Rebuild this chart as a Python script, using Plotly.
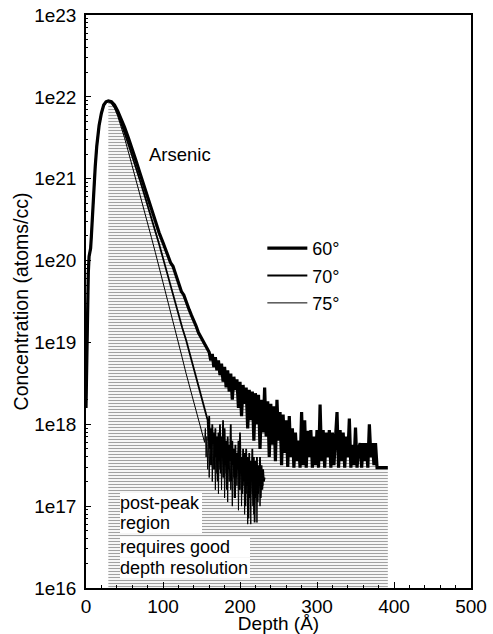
import numpy as np
import plotly.graph_objects as go

# ---------------- data (depth in Å, concentration as log10 atoms/cc) ----------------
# common rising edge (all three angles overlap)
rise_x = [0, 1, 2, 3, 4, 5, 6, 7, 8, 10, 12, 14, 17, 20, 23, 26]
rise_log = [18.2, 18.9, 19.5, 19.85, 20.05, 20.1, 20.15, 20.3, 20.5, 20.85, 21.15, 21.4, 21.65, 21.8, 21.9, 21.94]

# 60 degrees: decay part
dec60_x = [29, 33, 37, 41, 45, 50, 55, 60, 65, 70, 75, 80, 85, 90, 95, 100, 105, 110, 113, 116, 120,
           124, 127, 130, 134, 137, 140, 143, 146, 150, 153, 156, 158]
dec60_log = [21.95, 21.94, 21.9, 21.83, 21.75, 21.63, 21.5, 21.37, 21.22, 21.07, 20.92, 20.77, 20.62,
             20.48, 20.34, 20.22, 20.1, 19.97, 19.93, 19.84, 19.72, 19.62, 19.58, 19.49, 19.4, 19.33,
             19.27, 19.2, 19.12, 19.05, 19.0, 18.93, 18.9]
# 60 degrees: noisy tail, 2 Å steps from 160 to 378, then floor
tail60_x = list(range(160, 380, 2)) + [380, 392]
tail60_log = [
    18.88, 18.78, 18.86, 18.70, 18.82, 18.66, 18.78, 18.60, 18.74, 18.52,
    18.70, 18.45, 18.66, 18.40, 18.62, 18.30, 18.58, 18.42, 18.55, 18.20,
    18.52, 18.10, 18.48, 18.25, 18.45, 17.95, 18.42, 18.05, 18.40, 17.80,
    18.38, 18.00, 18.36, 17.70, 18.30, 17.90, 18.45, 17.85, 18.28, 17.60,
    18.25, 17.75, 18.22, 17.55, 18.30, 17.80, 18.15, 17.50, 18.12, 17.65,
    18.05, 17.48, 18.10, 17.60, 17.95, 17.47, 17.90, 17.55, 17.80, 17.47,
    18.15, 17.50, 18.05, 17.47, 17.92, 17.60, 17.93, 17.47, 17.85, 17.50,
    17.93, 17.47, 18.24, 17.55, 17.93, 17.47, 17.90, 17.60, 17.93, 17.47,
    17.90, 17.50, 17.93, 18.15, 17.47, 17.93, 17.55, 17.90, 17.47, 17.85,
    17.60, 18.07, 17.47, 17.75, 17.50, 17.96, 17.47, 17.70, 17.77, 17.47,
    17.77, 17.55, 17.77, 17.47, 18.00, 17.60, 17.77, 17.50, 17.77, 17.47,
    17.47, 17.47]

# 70 degrees
dec70_x = [29, 33, 37, 41, 45, 50, 55, 60, 65, 70, 75, 80, 85, 90, 95, 100, 105, 110, 115, 120,
           125, 130, 135, 140, 145, 150, 154]
dec70_log = [21.95, 21.93, 21.88, 21.8, 21.7, 21.56, 21.42, 21.28, 21.13, 20.98, 20.83, 20.68, 20.52,
             20.36, 20.2, 20.03, 19.86, 19.68, 19.5, 19.33, 19.18, 19.03, 18.86, 18.68, 18.5, 18.32,
             18.18]
tail70_x = list(range(158, 233))
tail70_log = [18.05, 17.8, 18.1, 17.7, 17.95, 17.5, 18.0, 17.75, 17.9, 17.45,
              17.95, 17.6, 17.85, 17.3, 17.9, 17.55, 18.0, 17.4, 17.85, 17.6,
              18.05, 17.35, 17.95, 17.5, 17.8, 17.2, 17.85, 17.45, 17.75, 17.55,
              18.0, 17.3, 17.8, 17.5, 17.7, 17.1, 17.75, 17.35, 17.65, 17.45,
              17.8, 17.2, 17.9, 17.4, 17.6, 17.15, 17.7, 17.3, 17.65, 17.0,
              17.7, 17.25, 17.6, 16.85, 17.65, 17.1, 17.55, 17.3, 17.7, 17.0,
              17.6, 16.8, 17.55, 17.2, 17.6, 17.05, 17.5, 17.25, 17.6, 17.1,
              17.5, 17.2, 17.45, 17.3, 17.35]

# 75 degrees
dec75_x = [29, 33, 37, 41, 45, 50, 55, 60, 65, 70, 75, 80, 85, 90, 95, 100, 105, 110, 115, 120,
           125, 130, 135, 140, 145, 150]
dec75_log = [21.95, 21.92, 21.86, 21.77, 21.66, 21.5, 21.33, 21.16, 20.99, 20.82, 20.64, 20.46, 20.28,
             20.1, 19.92, 19.74, 19.56, 19.38, 19.19, 19.0, 18.81, 18.62, 18.44, 18.26, 18.08, 17.9]
tail75_x = list(range(154, 231))
tail75_log = [17.78, 17.95, 17.6, 17.85, 17.45, 17.9, 17.35, 17.8, 17.5, 17.9,
              17.3, 17.75, 17.45, 17.8, 17.2, 17.7, 17.4, 17.75, 17.15, 17.7,
              17.45, 17.8, 17.2, 17.7, 17.35, 17.75, 17.1, 17.6, 17.4, 17.7,
              17.05, 17.6, 17.3, 17.7, 17.2, 17.55, 17.0, 17.6, 17.35, 17.5,
              17.1, 17.55, 17.25, 17.6, 16.95, 17.5, 17.2, 17.55, 17.0, 17.45,
              17.25, 17.55, 16.9, 17.45, 17.15, 17.5, 16.78, 17.4, 17.1, 17.45,
              16.78, 17.4, 17.15, 17.5, 16.9, 17.35, 17.1, 17.45, 16.8, 17.4,
              17.15, 17.4, 17.0, 17.35, 17.2, 17.4, 17.25]

series_names = ["60°", "70°", "75°"]
y_tick_vals = [1e16, 1e17, 1e18, 1e19, 1e20, 1e21, 1e22, 1e23]
y_tick_text = ["1e16", "1e17", "1e18", "1e19", "1e20", "1e21", "1e22", "1e23"]
x_tick_vals = [0, 100, 200, 300, 400, 500]

# ---------------- build series ----------------
x60 = rise_x + dec60_x + tail60_x
y60 = list(10 ** np.array(rise_log + dec60_log + tail60_log))
x70 = rise_x + dec70_x + tail70_x
y70 = list(10 ** np.array(rise_log + dec70_log + tail70_log))
x75 = rise_x + dec75_x + tail75_x
y75 = list(10 ** np.array(rise_log + dec75_log + tail75_log))

Y_LOW = y_tick_vals[0]
FONT = "Liberation Sans, Arial, Helvetica, sans-serif"

fig = go.Figure()

# hatched post-peak region (under the 60° envelope, from the peak onward)
peak_x = dec60_x[0] - 1
hx = [x for x in x60 if x >= peak_x]
hy = [y for x, y in zip(x60, y60) if x >= peak_x]
fig.add_trace(go.Scatter(
    x=hx + [hx[-1], hx[0]], y=hy + [Y_LOW, Y_LOW],
    mode="lines", fill="toself", fillcolor="rgba(0,0,0,0)",
    fillpattern=dict(shape="-", fgcolor="#444444", bgcolor="white", size=3, solidity=0.4),
    line=dict(width=0), showlegend=False, hoverinfo="skip"))

widths = [3.2, 1.8, 1.0]
for name, xs, ys, w in zip(series_names, [x60, x70, x75], [y60, y70, y75], widths):
    fig.add_trace(go.Scatter(
        x=xs, y=ys, mode="lines", name=name, legendgroup=name,
        line=dict(color="black", width=w)))

fig.update_layout(
    width=493, height=634,
    margin=dict(l=86, r=22, t=15, b=46),
    paper_bgcolor="white", plot_bgcolor="white",
    font=dict(family=FONT, size=18, color="black"),
    showlegend=True,
    legend=dict(x=0.458, y=0.625, xanchor="left", yanchor="top",
                bgcolor="rgba(0,0,0,0)", font=dict(size=18),
                itemwidth=40, tracegroupgap=1),
    xaxis=dict(
        range=[0, 500], tickvals=x_tick_vals, ticks="inside", ticklen=6,
        tickwidth=1.2, tickcolor="black", tickfont=dict(size=19),
        minor=dict(ticks="inside", ticklen=3, dtick=20, tickcolor="black"),
        showline=True, linecolor="black", linewidth=1.5, mirror=True,
        showgrid=False, zeroline=False, automargin=False,
        title=dict(text="Depth (Å)", font=dict(size=19), standoff=2),
    ),
    yaxis=dict(
        type="log", range=[16, 23], tickvals=y_tick_vals, ticktext=y_tick_text,
        ticks="inside", ticklen=5, tickwidth=1.2, tickcolor="black", tickfont=dict(size=19),
        minor=dict(ticks="inside", ticklen=2, dtick="D1", tickcolor="black", showgrid=False),
        showline=True, linecolor="black", linewidth=1.5, mirror=True,
        showgrid=False, zeroline=False, ticklabelstandoff=4, automargin=False,
        title=dict(text="Concentration (atoms/cc)", font=dict(size=19.5), standoff=0),
    ),
)

fig.add_annotation(x=122, y=21.3, xref="x", yref="y", text="Arsenic",
                   showarrow=False, font=dict(size=18.5))

# text boxes with white background (drawn bottom first)
labels = [("depth resolution", 16.24, 130), ("requires good", 16.5, 130),
          ("region", 16.79, 82), ("post-peak", 17.04, 82)]
for txt, ly, w in labels:
    fig.add_annotation(x=44, y=ly, xref="x", yref="y", text=txt, showarrow=False,
                       xanchor="left", align="left", width=w, bgcolor="white",
                       borderpad=0, borderwidth=0, font=dict(size=18))

fig.write_html("out.html")
